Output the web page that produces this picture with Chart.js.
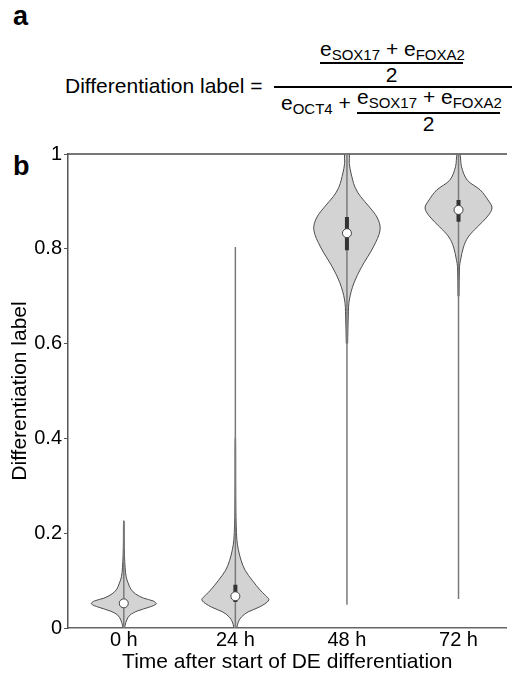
<!DOCTYPE html>
<html>
<head>
<meta charset="utf-8">
<script src="https://cdn.jsdelivr.net/npm/chart.js@4.4.1/dist/chart.umd.min.js"></script>
<style>
  body { margin: 0; background: #fff; font-family: 'Liberation Sans', Arial, sans-serif; color: #000; }
  #page { position: relative; width: 512px; height: 679px; overflow: hidden; }
  .t { position: absolute; white-space: nowrap; line-height: 1; }
  .f { font-size: 21px; }
  .f sub { font-size: 15px; vertical-align: -4px; line-height: 1; }
  .bar { position: absolute; height: 1.5px; background: #000; }
  .panel { font-weight: bold; font-size: 27px; }
  #wrap { position: absolute; left: 0; top: 135px; width: 512px; height: 544px; }
</style>
</head>
<body>
<div id="page">
  <div class="t panel" style="left:13px; top:3px">a</div>

  <div class="t f" style="left:65px; top:75px">Differentiation label =</div>
  <div class="t f" style="left:320px; top:38px">e<sub>SOX17</sub> + e<sub>FOXA2</sub></div>
  <div class="bar" style="left:320px; top:62px; width:143px"></div>
  <div class="t f" style="left:320px; top:64px; width:143px; text-align:center">2</div>
  <div class="bar" style="left:274px; top:86px; width:238px"></div>
  <div class="t f" style="left:281px; top:92px">e<sub>OCT4</sub> +</div>
  <div class="t f" style="left:357px; top:86px">e<sub>SOX17</sub> + e<sub>FOXA2</sub></div>
  <div class="bar" style="left:357px; top:112px; width:143px"></div>
  <div class="t f" style="left:357px; top:113px; width:143px; text-align:center">2</div>

  <div class="t panel" style="left:13px; top:153px">b</div>
  <div id="wrap"><canvas id="violinChart" width="512" height="544"></canvas></div>
</div>

<script>
const categories = ['0 h', '24 h', '48 h', '72 h'];
const yTicks = [0, 0.2, 0.4, 0.6, 0.8, 1];

// violin outlines: label values and relative half-width (1 = widest) at each level
const levels0h = [0, 0.006, 0.017, 0.027, 0.036, 0.044, 0.051, 0.057, 0.063, 0.072, 0.082, 0.095, 0.108, 0.127, 0.154, 0.186, 0.226];
const widths0h = [0.03, 0.04, 0.09, 0.18, 0.41, 0.76, 0.97, 0.88, 0.59, 0.35, 0.21, 0.13, 0.07, 0.04, 0.02, 0.012, 0.008];

const levels24h = [0, 0.013, 0.023, 0.034, 0.044, 0.059, 0.07, 0.08, 0.101, 0.122, 0.143, 0.165, 0.186, 0.217, 0.249, 0.31, 0.4];
const widths24h = [0.04, 0.09, 0.18, 0.38, 0.71, 1, 0.88, 0.74, 0.5, 0.29, 0.17, 0.09, 0.045, 0.025, 0.015, 0.01, 0.006];

const levels48h = [0.6, 0.66, 0.692, 0.728, 0.762, 0.804, 0.84, 0.865, 0.89, 0.91, 0.93, 0.96, 0.98, 1.0];
const widths48h = [0.02, 0.04, 0.07, 0.21, 0.44, 0.79, 0.99, 0.91, 0.65, 0.41, 0.24, 0.12, 0.07, 0.06];

const levels72h = [0.7, 0.762, 0.776, 0.804, 0.825, 0.846, 0.867, 0.886, 0.903, 0.924, 0.945, 0.973, 1.0];
const widths72h = [0.015, 0.03, 0.06, 0.15, 0.29, 0.56, 0.85, 1, 0.88, 0.65, 0.26, 0.09, 0.04];

const whiskerLow = [0, 0, 0.049, 0.061];
const whiskerHigh = [0.226, 0.804, 1.0, 1.0];
const boxLow = [0.045, 0.055, 0.797, 0.857];
const boxHigh = [0.058, 0.091, 0.867, 0.903];
const medians = [0.052, 0.067, 0.833, 0.882];

const violinLevels = [levels0h, levels24h, levels48h, levels72h];
const violinWidths = [widths0h, widths24h, widths48h, widths72h];
const maxHalfWidth = 0.3; // in category units

Chart.defaults.font.family = "'Liberation Sans', Arial, sans-serif";
Chart.defaults.color = '#000';

// right side going up, then left side coming back down
const violinOutline = (i) => {
    const levels = violinLevels[i];
    const widths = violinWidths[i];
    const right = levels.map((v, k) => ({ x: i + maxHalfWidth * widths[k], y: v }));
    const left = levels.map((v, k) => ({ x: i - maxHalfWidth * widths[k], y: v })).reverse();
    return right.concat(left);
};

const datasets = [];

datasets.push({
    data: medians.map((m, i) => ({ x: i, y: m })),
    showLine: false,
    pointRadius: 4.5,
    pointBackgroundColor: '#fff',
    pointBorderColor: '#444',
    pointBorderWidth: 1,
    order: 1
});

categories.forEach((c, i) => {
    datasets.push({
        data: [{ x: i, y: boxLow[i] }, { x: i, y: boxHigh[i] }],
        showLine: true, fill: false,
        borderColor: '#333', borderWidth: 4, pointRadius: 0,
        order: 2
    });
    datasets.push({
        data: [{ x: i, y: whiskerLow[i] }, { x: i, y: whiskerHigh[i] }],
        showLine: true, fill: false,
        borderColor: '#7a7a7a', borderWidth: 1.5, pointRadius: 0,
        order: 3
    });
    datasets.push({
        data: violinOutline(i),
        showLine: true, fill: 'shape',
        backgroundColor: '#d3d3d3', borderColor: '#4d4d4d', borderWidth: 1,
        pointRadius: 0, tension: 0.35,
        order: 4
    });
});

new Chart(document.getElementById('violinChart'), {
    type: 'scatter',
    data: { datasets },
    options: {
        responsive: false,
        animation: false,
        layout: { padding: 0 },
        plugins: { legend: { display: false }, tooltip: { enabled: false } },
        scales: {
            x: {
                type: 'linear', min: -0.5, max: 3.43,
                afterBuildTicks: s => { s.ticks = categories.map((c, i) => ({ value: i })); },
                afterFit: s => { s.height = 51; },
                ticks: { font: { size: 20 }, padding: 0, maxRotation: 0, autoSkip: false, callback: v => categories[v] },
                grid: { display: false, drawTicks: false },
                border: { color: '#666', width: 1.5 },
                title: { display: true, text: 'Time after start of DE differentiation', font: { size: 21 }, padding: { top: 0, bottom: 4 } }
            },
            x2: {
                type: 'linear', position: 'top', min: -0.5, max: 3.43,
                ticks: { display: false },
                grid: { display: false, drawTicks: false },
                border: { color: '#777', width: 2 },
                afterFit: s => { s.height = 19; }
            },
            y: {
                min: 0, max: 1,
                afterBuildTicks: s => { s.ticks = yTicks.map(v => ({ value: v })); },
                afterFit: s => { s.width = 68; },
                ticks: { font: { size: 20 }, padding: 2, callback: v => String(v) },
                grid: { drawOnChartArea: false, tickLength: 4, color: '#555', lineWidth: 1 },
                border: { color: '#555', width: 1.5 },
                title: { display: true, text: 'Differentiation label', font: { size: 21 }, padding: { top: 8, bottom: 0 } }
            }
        }
    }
});
</script>
</body>
</html>
